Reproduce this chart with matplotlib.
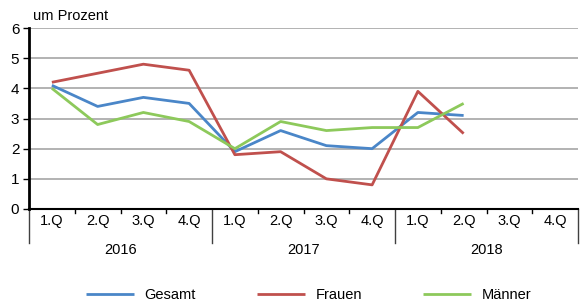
import matplotlib
matplotlib.use("Agg")
import matplotlib.pyplot as plt
import matplotlib.transforms as mtransforms

plt.rcParams['font.family'] = ['Liberation Sans', 'DejaVu Sans']

quarters = ["1.Q", "2.Q", "3.Q", "4.Q"] * 3
years = ["2016", "2017", "2018"]
gesamt = [4.1, 3.4, 3.7, 3.5, 1.9, 2.6, 2.1, 2.0, 3.2, 3.1]
frauen = [4.2, 4.5, 4.8, 4.6, 1.8, 1.9, 1.0, 0.8, 3.9, 2.5]
maenner = [4.0, 2.8, 3.2, 2.9, 2.0, 2.9, 2.6, 2.7, 2.7, 3.5]
series_names = ["Gesamt", "Frauen", "Männer"]
colors = ["#4A86C8", "#C0504D", "#8DC95B"]

W, H = 582, 301
fig = plt.figure(figsize=(W / 100, H / 100), dpi=100)
L, R, T, B = 29, 578, 28, 209
ax = fig.add_axes([L / W, 1 - B / H, (R - L) / W, (B - T) / H])

for vals, name, c in zip([gesamt, frauen, maenner], series_names, colors):
    ax.plot(range(len(vals)), vals, color=c, lw=2.0, label=name, solid_capstyle='butt')

ax.set_xlim(-0.5, len(quarters) - 0.5)
ax.set_ylim(0, 6)
ax.set_yticks(range(0, 7))
ax.tick_params(axis='y', length=4, width=1, labelsize=11, pad=3, colors='black')
for y in range(1, 7):
    ax.axhline(y, color='#A6A6A6', lw=1.2, zorder=0)

for s in ['top', 'right']:
    ax.spines[s].set_visible(False)
ax.spines['left'].set_linewidth(2)
ax.spines['bottom'].set_linewidth(1.5)
ax.set_xticks([])

trans = mtransforms.blended_transform_factory(ax.transData, ax.transAxes)
for i, q in enumerate(quarters):
    ax.text(i, -0.065, q, transform=trans, ha='center', va='center', fontsize=10.5)
for i in range(len(quarters) + 1):
    xb = i - 0.5
    if i % 4 == 0:
        ax.plot([xb, xb], [0, -0.19], transform=trans, color='#404040', lw=1, clip_on=False)
    else:
        ax.plot([xb, xb], [0, -0.02], transform=trans, color='black', lw=1, clip_on=False)
for k, yr in enumerate(years):
    ax.text(4 * k + 1.5, -0.225, yr, transform=trans, ha='center', va='center', fontsize=10.5)

fig.text(33 / W, 1 - 16 / H, "um Prozent", ha='left', va='center', fontsize=10.5)

fig.legend(loc='center', bbox_to_anchor=(0.53, 1 - 295 / H), ncol=3, frameon=False,
           fontsize=10.5, handlelength=3.3, handletextpad=0.7, columnspacing=4.2)

fig.savefig("out.png", dpi=100)
